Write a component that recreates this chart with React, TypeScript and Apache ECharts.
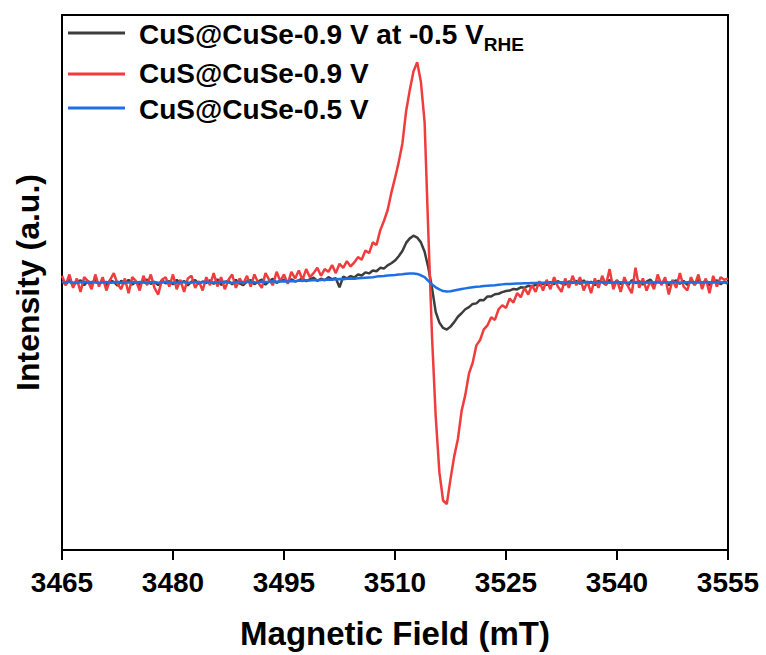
import React, { useEffect, useRef } from "react";
import * as echarts from "echarts";

// Magnetic field sampling (mT): first point and spacing of the recorded spectra
const FIELD_START = 3465;
const FIELD_STEP = 0.5;

const X_TICKS_MIN = 3465;
const X_TICKS_MAX = 3555;
const X_TICK_STEP = 15;

const SERIES_NAMES = ["CuS@CuSe-0.9 V at -0.5 V", "CuS@CuSe-0.9 V", "CuS@CuSe-0.5 V"];

// CuS@CuSe-0.9 V at -0.5 V_RHE (black)
const BLACK = [
  5, -8, 10, -12, 3, 8, -10, 6, -5, 12,
  -6, 4, -10, 8, 2, -12, 7, -4, 10, -8,
  3, -9, 6, 11, -5, 2, -10, 8, -3, 5,
  -7, 10, -4, 6, -11, 3, 9, -6, 4, -2,
  8, -5, 12, -9, 2, 6, -7, 10, -3, -10,
  4, 9, -6, 3, 11, -8, 5, 14, -2, 7,
  10, 2, 12, 4, 8, 15, 5, 12, 18, 6,
  14, 8, 20, 12, 16, -18, 22, 15, 24, 19,
  30, 26, 38, 34, 45, 42, 55, 52, 64, 72,
  82, 98, 118, 148, 165, 175, 168, 150, 115, 56,
  -20, -110, -150, -170, -176, -165, -148, -128, -115, -100,
  -92, -80, -78, -65, -66, -52, -52, -44, -42, -36,
  -32, -30, -24, -26, -18, -20, -12, -16, -8, -10,
  -4, -9, 2, -6, 5, -3, -8, 4, -2, 6,
  -5, 8, -7, 3, -10, 6, 2, -8, 10, -4,
  7, -6, 4, -11, 9, -2, 5, -8, 3, 11,
  -7, 4, -3, 9, -10, 2, 8, -5, 6, -9,
  5, -8, 10, -3, 7, -11, 4, 8, -6, 3,
  -5,
];

// CuS@CuSe-0.9 V (red)
const RED = [
  25, -10, 30, -20, 15, -35, 20, 5, -25, 30,
  -15, 20, -30, 10, 35, -5, -25, 15, -40, 20,
  5, -30, 25, -10, 30, -20, -45, 10, 20, -15,
  30, -25, 10, -35, 15, 25, -20, 5, -30, 20,
  -10, 35, -15, 20, -25, 10, 30, -20, 15, -5,
  25, -15, 30, 0, -20, 35, 10, -10, 40, 5,
  30, -5, 40, 15, 45, 10, 50, 20, 35, 55,
  25, 50, 40, 65, 35, 70, 55, 80, 60, 75,
  95, 85, 120, 110, 150, 140, 195, 230, 270, 335,
  390, 450, 520, 640, 720, 790, 823, 750, 600, 190,
  -200, -500, -710, -815, -828, -735, -650, -585, -480, -420,
  -340, -300, -235, -215, -175, -160, -130, -140, -100, -85,
  -95, -60, -75, -40, -55, -20, -45, -10, -35, 5,
  -30, 10, -25, 20, -15, -35, 15, -20, 25, -10,
  20, -30, 5, -40, 15, -20, 25, -10, 50, -25,
  10, -35, 20, -15, -40, 55, -20, 15, -30, 5,
  -25, 30, -10, 20, -45, 10, -20, 35, -15, -30,
  20, -10, 30, -25, 15, -40, 25, -15, 20, 10,
  15,
];

// CuS@CuSe-0.5 V (blue)
const BLUE = [
  2, -1, 3, 0, -2, 1, 3, -1, 2, 0,
  -2, 1, 2, -1, 0, 3, -2, 1, 0, 2,
  -1, 2, 0, -3, 1, 2, -1, 0, 3, 1,
  0, -2, 1, 2, -1, 0, 2, -2, 1, 3,
  1, 0, -1, 2, 3, 0, -2, 1, 2, 0,
  2, 3, 1, 0, 4, 2, 3, 5, 3, 4,
  5, 4, 6, 5, 7, 6, 8, 7, 9, 8,
  9, 10, 11, 10, 12, 13, 12, 14, 15, 14,
  16, 17, 18, 19, 20, 22, 23, 24, 26, 27,
  28, 30, 31, 33, 34, 34, 32, 27, 20, 6,
  -7, -18, -26, -32, -34, -33, -30, -27, -24, -22,
  -20, -18, -16, -15, -13, -12, -11, -10, -8, -7,
  -6, -6, -5, -4, -4, -3, -3, -2, -2, -1,
  -1, 0, -1, 1, 0, 1, -1, 0, 1, 0,
  1, 0, 2, -1, 1, 0, 2, 1, -1, 0,
  2, 1, 0, -1, 1, 2, 0, 1, -1, 2,
  0, 1, -2, 1, 0, 2, 1, -1, 0, 1,
  2, 0, 1, -1, 2, 1, 0, 2, 1, 0,
  1,
];

const COLORS = ["#3d3d3d", "#f03c3c", "#1f6fe4"];
const FONT = "'Liberation Sans', Arial, sans-serif";

function toPairs(values: number[]) {
  return values.map((v, i) => [FIELD_START + i * FIELD_STEP, v]);
}

export default function App() {
  const ref = useRef<HTMLDivElement>(null);

  useEffect(() => {
    if (!ref.current) return;
    const chart = echarts.init(ref.current, undefined, { renderer: "svg" });
    const seriesData = [BLACK, RED, BLUE];

    const legendRows = [33, 74, 108];
    const legendGraphics: any[] = [];
    legendRows.forEach((y, i) => {
      legendGraphics.push({
        type: "line",
        shape: { x1: 68, y1: y, x2: 125, y2: y },
        style: { stroke: COLORS[i], lineWidth: 3 },
        z: 100,
      });
    });
    legendGraphics.push({
      type: "text",
      x: 139,
      y: 34,
      z: 100,
      style: {
        text: "{a|" + SERIES_NAMES[0] + "}{s|RHE}",
        textVerticalAlign: "middle",
        rich: {
          a: { fontSize: 28, fontWeight: "bold", fontFamily: FONT, fill: "#000", lineHeight: 40, verticalAlign: "middle" },
          s: { fontSize: 19, fontWeight: "bold", fontFamily: FONT, fill: "#000", lineHeight: 19, verticalAlign: "bottom" },
        },
      },
    });
    [1, 2].forEach((i) => {
      legendGraphics.push({
        type: "text",
        x: 139,
        y: i === 1 ? 73 : 109,
        z: 100,
        style: {
          text: SERIES_NAMES[i],
          fontSize: 28,
          fontWeight: "bold",
          fontFamily: FONT,
          fill: "#000",
          textVerticalAlign: "middle",
        },
      });
    });

    chart.setOption({
      animation: false,
      backgroundColor: "#fff",
      grid: {
        left: 62,
        right: 38,
        top: 15,
        bottom: 104,
        show: true,
        borderColor: "#000",
        borderWidth: 2,
        backgroundColor: "transparent",
      },
      xAxis: {
        type: "value",
        min: X_TICKS_MIN,
        max: X_TICKS_MAX,
        interval: X_TICK_STEP,
        axisLine: { show: true, onZero: false, lineStyle: { color: "#000", width: 2 } },
        axisTick: { show: true, inside: false, length: 10, lineStyle: { color: "#000", width: 2 } },
        axisLabel: {
          fontSize: 28,
          fontWeight: "bold",
          fontFamily: FONT,
          color: "#000",
          margin: 18,
          formatter: (v: number) => String(v),
        },
        splitLine: { show: false },
        name: "Magnetic Field (mT)",
        nameLocation: "middle",
        nameGap: 67,
        nameTextStyle: { fontSize: 33, fontWeight: "bold", fontFamily: FONT, color: "#000" },
      },
      yAxis: {
        type: "value",
        min: -1000,
        max: 1000,
        axisLine: { show: true, onZero: false, lineStyle: { color: "#000", width: 2 } },
        axisTick: { show: false },
        axisLabel: { show: false },
        splitLine: { show: false },
        name: "Intensity (a.u.)",
        nameLocation: "middle",
        nameGap: 18,
        nameTextStyle: { fontSize: 32, fontWeight: "bold", fontFamily: FONT, color: "#000" },
      },
      series: seriesData.map((d, i) => ({
        name: SERIES_NAMES[i],
        type: "line",
        data: toPairs(d),
        showSymbol: false,
        symbol: "none",
        lineStyle: { color: COLORS[i], width: 2.5 },
        itemStyle: { color: COLORS[i] },
        z: 2 + i,
      })),
      graphic: legendGraphics,
    });

    return () => {
      chart.dispose();
    };
  }, []);

  return (
    <div
      ref={ref}
      style={{ position: "fixed", left: 0, top: 0, width: 766, height: 655, background: "#fff" }}
    />
  );
}
